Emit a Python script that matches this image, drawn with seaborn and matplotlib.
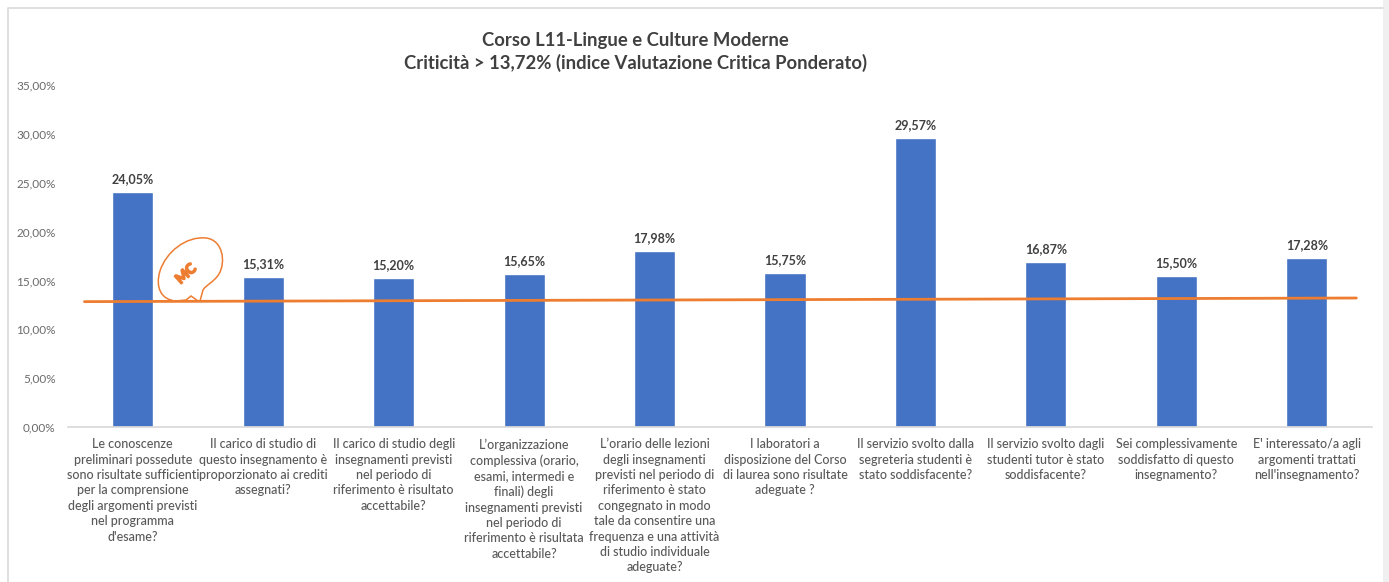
import matplotlib
matplotlib.use("Agg")
import matplotlib.patheffects as pe
import matplotlib.pyplot as plt
import pandas as pd
import seaborn as sns
from matplotlib.patches import PathPatch, Rectangle
from matplotlib.path import Path

#################### DATA ####################
questions = [
    "Le conoscenze\npreliminari possedute\nsono risultate sufficienti\nper la comprensione\ndegli argomenti previsti\nnel programma\nd'esame?",
    "Il carico di studio di\nquesto insegnamento è\nproporzionato ai crediti\nassegnati?",
    "Il carico di studio degli\ninsegnamenti previsti\nnel periodo di\nriferimento è risultato\naccettabile?",
    "L’organizzazione\ncomplessiva (orario,\nesami, intermedi e\nfinali) degli\ninsegnamenti previsti\nnel periodo di\nriferimento è risultata\naccettabile?",
    "L’orario delle lezioni\ndegli insegnamenti\nprevisti nel periodo di\nriferimento è stato\ncongegnato in modo\ntale da consentire una\nfrequenza e una attività\ndi studio individuale\nadeguate?",
    "I laboratori a\ndisposizione del Corso\ndi laurea sono risultate\nadeguate ?",
    "Il servizio svolto dalla\nsegreteria studenti è\nstato soddisfacente?",
    "Il servizio svolto dagli\nstudenti tutor è stato\nsoddisfacente?",
    "Sei complessivamente\nsoddisfatto di questo\ninsegnamento?",
    "E' interessato/a agli\nargomenti trattati\nnell'insegnamento?",
]
criticita = [24.05, 15.31, 15.20, 15.65, 17.98, 15.75, 29.57, 16.87, 15.50, 17.28]
line_x = [-0.37, 9.38]
line_y = [12.83, 13.20]
y_ticks = [0, 5, 10, 15, 20, 25, 30, 35]

title_lines = "Corso L11-Lingue e Culture Moderne\nCriticità > 13,72% (indice Valutazione Critica Ponderato)"

#################### CONFIG ####################
sns.set_theme(style="white")
plt.rcParams["font.family"] = ["Lato", "DejaVu Sans"]

BLUE = "#4472C4"
ORANGE = "#ED7D31"
GREY = "#595959"
DARK = "#404040"
W, H = 1389, 582


def it_pct(v):
    return f"{v:.2f}%".replace(".", ",")


df = pd.DataFrame({"question": questions, "value": criticita})

fig = plt.figure(figsize=(W / 100, H / 100), dpi=100, facecolor="white")
ax = fig.add_axes([67.5 / W, 1 - 427 / H, (1372 - 67.5) / W, (427 - 85) / H])

#################### Bars + line ####################
sns.barplot(data=df, x="question", y="value", color=BLUE, saturation=1, width=0.315, ax=ax)
sns.lineplot(x=line_x, y=line_y, color=ORANGE, linewidth=2.0, ax=ax, zorder=5)

for bar, v in zip(ax.patches, criticita):
    ax.annotate(
        it_pct(v),
        (bar.get_x() + bar.get_width() / 2, v),
        xytext=(0, 5),
        textcoords="offset points",
        ha="center",
        va="bottom",
        weight="bold",
        size=9,
        color=DARK,
    )

ax.set_xlim(-0.5, 9.5)
ax.set_ylim(0, 35)
ax.set_yticks(y_ticks)
ax.set_yticklabels([it_pct(t) for t in y_ticks], size=8.5, color="#6A6A6A")
ax.set_xticks(range(len(questions)))
ax.set_xticklabels(questions, size=9, color=GREY, linespacing=1.34, va="top", weight="medium")
ax.set_xlabel("")
ax.set_ylabel("")
ax.tick_params(axis="both", length=0)
ax.tick_params(axis="x", pad=8)
ax.tick_params(axis="y", pad=8.5)
sns.despine(ax=ax, left=True)
ax.spines["bottom"].set_color("#D9D9D9")
ax.patch.set_alpha(0)

#################### Frame, title, bubble ####################
over = fig.add_axes([0, 0, 1, 1], zorder=-1)
over.set_xlim(0, W)
over.set_ylim(H, 0)
over.axis("off")
over.add_patch(Rectangle((1383, 0), 6, H, color="#F0F0F0", lw=0))
over.plot([8, 8, 1383], [H, 8, 8], color="#D9D9D9", lw=1.2)

fig.text(635 / W, 1 - 52 / H, title_lines, ha="center", va="center", size=13.3, weight="bold",
         color=DARK, linespacing=1.38)

top = fig.add_axes([0, 0, 1, 1], zorder=10)
top.set_xlim(0, W)
top.set_ylim(H, 0)
top.axis("off")
bubble = Path(
    [(176, 301), (161, 300), (155, 287), (160, 271), (166, 252), (186, 236), (206, 238),
     (223, 240), (226, 262), (219, 274), (214, 282), (206, 285), (203, 290), (200, 301),
     (198, 301), (191, 296), (186, 300), (176, 301)],
    [Path.MOVETO, Path.CURVE4, Path.CURVE4, Path.CURVE4, Path.CURVE4, Path.CURVE4, Path.CURVE4,
     Path.CURVE4, Path.CURVE4, Path.CURVE4, Path.CURVE4, Path.CURVE4, Path.CURVE4, Path.LINETO,
     Path.LINETO, Path.LINETO, Path.LINETO, Path.LINETO],
)
top.add_patch(PathPatch(bubble, fc="none", ec=ORANGE, lw=1.1))
top.text(186, 274, "MC", color=ORANGE, size=10, weight="bold", rotation=42, ha="center", va="center",
         path_effects=[pe.withStroke(linewidth=1.3, foreground=ORANGE)])

plt.savefig("out.png", dpi=100, facecolor="white")
